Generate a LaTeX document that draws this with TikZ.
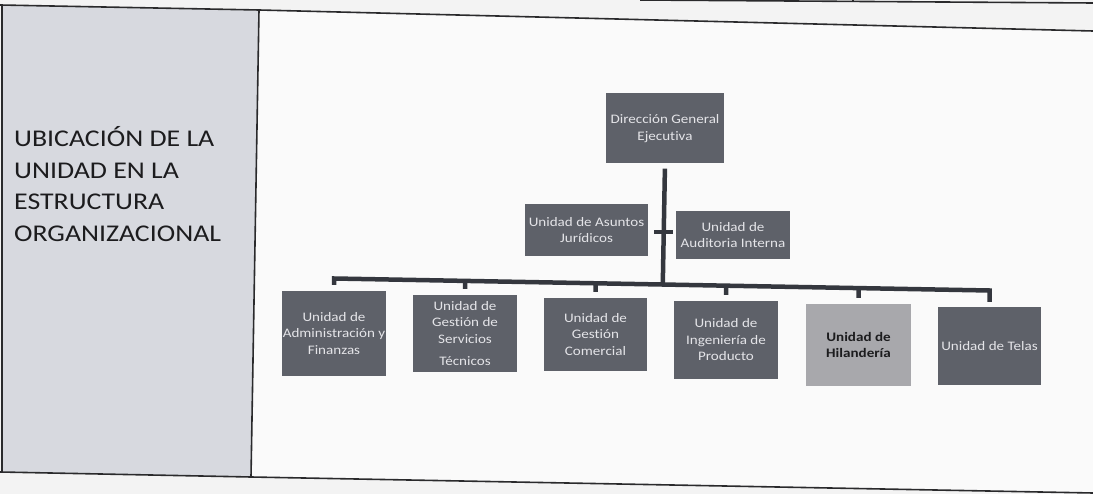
\documentclass[tikz,border=0pt]{standalone}
\usepackage{fontspec}
\setmainfont{Carlito}[FakeStretch=1.16, Ligatures=NoCommon]
\usetikzlibrary{calc}
\definecolor{pagebg}{HTML}{F3F3F3}
\definecolor{cellbg}{HTML}{FAFAFA}
\definecolor{panelbg}{HTML}{D7D9DF}
\definecolor{rulecol}{HTML}{2A2A2C}
\definecolor{boxgray}{HTML}{5E6169}
\definecolor{boxlight}{HTML}{A8A8AC}
\definecolor{boxtext}{HTML}{E4E4E8}
\definecolor{linkcol}{HTML}{34373E}
\definecolor{titletext}{HTML}{1C1C1E}
\begin{document}
\begin{tikzpicture}[x=1pt,y=-1pt,
  ubox/.style={fill=boxgray, text=boxtext, inner sep=0pt, align=center,
    font=\fontsize{13}{16.5}\selectfont},
  ulight/.style={ubox, fill=boxlight, text=titletext, font=\fontsize{13}{16.5}\selectfont\bfseries},
  link/.style={draw=linkcol, line width=4.5pt, line join=miter},
  tablerule/.style={draw=rulecol, line width=1.6pt},
  titleline/.style={anchor=base west, inner sep=0pt, text=titletext,
    font=\fontsize{24}{32}\selectfont}]
\useasboundingbox (0,0) rectangle (1093,494);
% page and table cells
\fill[pagebg] (0,0) rectangle (1093,494);
\fill[cellbg] (259,10) -- (1093,31) -- (1093,493) -- (251,477) -- cycle;
\fill[panelbg] (2,5) -- (259,10) -- (251,477) -- (2,472) -- cycle;
% table rules
\draw[tablerule] (640,0) -- (1093,3);
\draw[tablerule] (853,0) -- (853,2);
\draw[tablerule] (0,5) -- (259,10) -- (1093,31);
\draw[tablerule] (0,472) -- (251,477) -- (1093,493);
\draw[tablerule] (259,10) -- (251,477);
\draw[tablerule] (2,5) -- (2,472);
% heading of the row
\node[titleline] (t1) at (14,147) {UBICACIÓN DE LA};
\node[titleline] (t2) at (14,178.5) {UNIDAD EN LA};
\node[titleline] (t3) at (14,210) {ESTRUCTURA};
\node[titleline] (t4) at (14,242) {ORGANIZACIONAL};
% organisation chart
\node[ubox, minimum width=118pt, minimum height=70pt] (dge) at (665,128.5) {Dirección General\\Ejecutiva};
\node[ubox, minimum width=123pt, minimum height=52pt] (asj) at (586.5,230) {Unidad de Asuntos\\Jurídicos};
\node[ubox, minimum width=114pt, minimum height=48pt] (aud) at (733,235) {Unidad de\\Auditoria Interna};
\node[ubox, minimum width=104pt, minimum height=85pt] (b1) at (334,333.5) {Unidad de\\Administración y\\Finanzas};
\node[ubox, minimum width=104pt, minimum height=77pt] (b2) at (465,333.5) {Unidad de\\Gestión de\\Servicios\\[6pt]Técnicos};
\node[ubox, minimum width=103pt, minimum height=73pt] (b3) at (595.5,334.5) {Unidad de\\Gestión\\Comercial};
\node[ubox, minimum width=104pt, minimum height=78pt] (b4) at (726,340) {Unidad de\\Ingeniería de\\Producto};
\node[ulight, minimum width=105pt, minimum height=82pt] (b5) at (858.5,345) {Unidad de\\Hilandería};
\node[ubox, minimum width=103pt, minimum height=78pt] (b6) at (989.5,346) {Unidad de Telas};
% bus ends and crossing point
\coordinate (j1) at (334,278.5);
\coordinate (j6) at (989.5,290.5);
\coordinate (xc) at (663,232);
% connectors
\draw[link, shorten <=5pt] (dge.south) -- ($(j1)!(dge.south)!(j6)$);
\draw[link, shorten <=6pt, shorten >=5pt] (b1.north) -- (j1) -- (j6) -- (b6.north);
\foreach \b in {b2,b3,b4,b5}
  \draw[link, shorten <=6pt] (\b.north) -- ($(j1)!(\b.north)!(j6)$);
\draw[link, shorten <=6pt, shorten >=3pt] (asj.east |- xc) -- (aud.west |- xc);
\end{tikzpicture}
\end{document}
